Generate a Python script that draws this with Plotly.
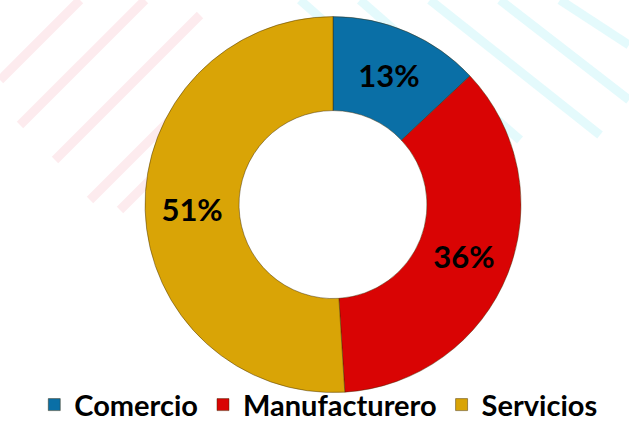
import plotly.graph_objects as go

categories = ["Comercio", "Manufacturero", "Servicios"]
values = [13, 36, 51]
colors = ["#0A6FA6", "#D90404", "#D9A406"]

fig = go.Figure()

fig.add_trace(go.Pie(
    labels=categories,
    values=values,
    hole=0.5,
    sort=False,
    direction="clockwise",
    rotation=0,
    marker=dict(colors=colors, line=dict(color="rgba(60,40,0,0.45)", width=1)),
    texttemplate="%{percent:.0%}",
    textposition="inside",
    insidetextorientation="horizontal",
    textfont=dict(family="Lato, Open Sans, sans-serif", size=31, color="black", weight="bold"),
    domain=dict(x=[0.2305, 0.8283], y=[0.0786, 0.961]),
    showlegend=True,
    hoverinfo="label+percent",
))

# faint watermark stripes in background
shapes = []
for (x0, y0, x1, y1) in [(0, 80, 80, 0), (20, 125, 145, 0), (55, 160, 200, 15), (90, 200, 250, 40), (120, 210, 240, 90)]:
    shapes.append(dict(type="line", xref="paper", yref="paper", x0=x0/629, y0=1-y0/426, x1=x1/629, y1=1-y1/426,
                       line=dict(color="rgba(240,120,140,0.15)", width=9), layer="below"))
for (x0, y0, x1, y1) in [(300, 0, 470, 150), (360, 0, 520, 140), (430, 0, 600, 135), (500, 0, 629, 100), (560, 0, 629, 45)]:
    shapes.append(dict(type="line", xref="paper", yref="paper", x0=x0/629, y0=1-y0/426, x1=x1/629, y1=1-y1/426,
                       line=dict(color="rgba(120,230,240,0.2)", width=9), layer="below"))

fig.update_layout(
    width=629, height=426,
    margin=dict(l=0, r=0, t=0, b=0, autoexpand=False),
    paper_bgcolor="white",
    plot_bgcolor="white",
    shapes=shapes,
    legend=dict(
        orientation="h",
        x=0.506, xanchor="center",
        y=-0.01, yanchor="bottom",
        font=dict(family="Lato, Open Sans, sans-serif", size=29, color="black", weight="bold"),
        itemwidth=30,
        bgcolor="rgba(0,0,0,0)",
    ),
)

fig.write_html(
    "out.html",
    config={"displayModeBar": False},
    post_script="document.body.style.margin='0';document.body.style.padding='0';document.body.style.overflow='hidden';",
)
